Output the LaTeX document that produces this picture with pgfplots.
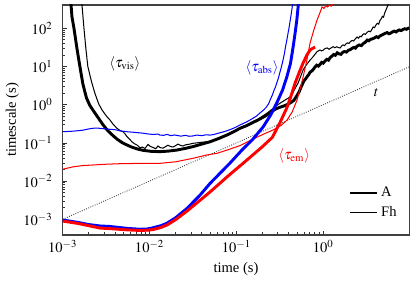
\documentclass[border=0pt]{standalone}
\usepackage{mathptmx}
\usepackage{fontspec}
\setmainfont{Liberation Serif}
\usepackage{pgfplots}
\pgfplotsset{compat=1.18}
\begin{document}
\begin{tikzpicture}
\begin{axis}[
  scale only axis, width=237.4bp, height=157.5bp,
  xmode=log, ymode=log,
  xmin=1e-3, xmax=9.8, ymin=3.9e-4, ymax=407,
  xtick pos=bottom, ytick pos=left, tick align=inside,
  axis line style={black!75, line width=0.9bp},
  every tick/.style={black!80, line width=0.5bp},
  major tick length=3bp, minor tick length=1.7bp,
  xtick={1e-3,1e-2,1e-1,1},
  ytick={1e-3,1e-2,1e-1,1,10,100},
  yticklabel style={xshift=-3.5bp},
  xlabel={time (s)}, ylabel={timescale (s)},
  xlabel style={at={(axis description cs:0.5,-0.146)}, anchor=center},
  ylabel style={at={(axis description cs:-0.145,0.5)}, anchor=center, rotate=0},
  legend cell align=left,
  legend style={at={(axis description cs:0.985,0.045)}, anchor=south east, draw=none, fill=none, row sep=1bp},
  legend image code/.code={\draw[#1] (0cm,0cm) -- (0.65cm,0cm);},
  clip=true,
]
% t line
\addplot[forget plot, densely dotted, black!75, line width=0.6bp] coordinates {(0.001,0.001) (9.8,9.8)};
% thick black A vis
\addplot[forget plot, black, line width=2bp] coordinates {
(0.00122,600)(0.00125,407)(0.00128,200)(0.00135,100)(0.00146,30)(0.00158,10)(0.00171,3.5)(0.00188,1.5)(0.00206,0.95)(0.00236,0.6)(0.00291,0.30)(0.0033,0.21)(0.0038,0.155)(0.0043,0.122)(0.0049,0.10)(0.00551,0.088)(0.0063,0.077)(0.0073,0.069)(0.0084,0.064)(0.0105,0.060)(0.0132,0.059)(0.0165,0.061)(0.0207,0.065)(0.026,0.072)(0.0317,0.080)(0.04,0.093)(0.0498,0.107)(0.0625,0.13)(0.0781,0.161)(0.095,0.20)
(0.110,0.241)(0.13,0.28)(0.15,0.33)(0.175,0.39)(0.2,0.46)(0.226,0.54)(0.25,0.64)(0.28,0.76)(0.31,0.84)(0.35,0.92)(0.39,1.02)(0.42,1.12)(0.46,1.3)(0.50,1.75)(0.53,2.2)(0.56,3.0)(0.60,4.2)(0.63,4.8)(0.653,5.4)(0.68,6.1)(0.71,7.2)(0.74,7.6)(0.766,8.3)(0.80,9.5)(0.84,10.8)(0.88,10.2)(0.92,11.3)(0.96,12.8)(1.0,12.2)(1.05,13.9)(1.1,15.4)(1.15,14.6)(1.2,17.0)(1.26,18.6)(1.32,20.5)(1.38,19.6)(1.45,22.8)(1.52,21.4)(1.6,20.8)(1.68,23.5)(1.76,24.6)(1.85,23.8)(1.95,26.5)(2.04,27.5)(2.15,29.8)(2.25,31.5)(2.35,30.2)(2.45,34)(2.6,36.5)(2.75,35.2)(2.9,40)(3.05,43)(3.21,49)(3.35,47)(3.5,51)(3.7,53)(3.9,56)(4.1,60)(4.3,57)(4.5,63)(4.75,67)(5.0,71)(5.2,74)(5.45,77)(5.7,72)(6.0,75)(6.3,81)(6.6,84)(6.9,80)(7.2,86)(7.5,90)(7.9,87)(8.3,93)(8.7,97)(9.1,94)(9.5,100)(9.8,102)};
% thin black Fh vis
\addplot[forget plot, black, line width=0.7bp] coordinates {
(0.00163,600)(0.00167,407)(0.00176,100)(0.00185,30)(0.00195,10)(0.00215,4.0)(0.00235,2.0)(0.0026,1.05)(0.00284,0.73)(0.0031,0.55)(0.0033,0.46)(0.0035,0.40)(0.0038,0.31)(0.00422,0.241)(0.0046,0.21)(0.00496,0.196)(0.0052,0.175)(0.00551,0.145)(0.0059,0.125)(0.00628,0.107)(0.0067,0.095)(0.00718,0.088)(0.0078,0.074)(0.0082,0.078)(0.0089,0.072)(0.0096,0.091)(0.0103,0.08)(0.011,0.076)(0.0118,0.07)(0.0125,0.083)(0.0133,0.075)(0.0143,0.073)(0.0152,0.079)(0.0163,0.087)(0.0175,0.08)(0.0187,0.078)(0.02,0.085)(0.0213,0.093)(0.0228,0.086)(0.0243,0.083)(0.026,0.089)(0.0278,0.091)(0.0297,0.094)(0.0317,0.0975)(0.035,0.10)(0.0382,0.103)(0.0435,0.106)(0.0498,0.110)(0.06,0.13)(0.0781,0.166)(0.095,0.205)
(0.110,0.25)(0.13,0.29)(0.15,0.345)(0.175,0.41)(0.2,0.50)(0.23,0.62)(0.265,0.80)(0.30,1.0)(0.33,1.15)(0.37,1.35)(0.416,1.6)(0.45,2.1)(0.48,2.8)(0.514,3.7)(0.55,5.5)(0.587,8.1)(0.63,10.5)(0.67,12.6)(0.706,14.8)(0.75,17)(0.8,20.5)(0.85,24.5)(0.92,27)(0.96,25.5)(1.0,26.8)(1.05,29.5)(1.11,30.5)(1.17,28.2)(1.24,30.8)(1.3,33)(1.36,31)(1.43,32.8)(1.5,31.2)(1.57,30.5)(1.63,34.5)(1.69,36.6)(1.76,35)(1.83,39)(1.9,41.5)(1.98,40)(2.06,45)(2.15,48)(2.24,46.5)(2.33,52)(2.45,59)(2.55,55)(2.65,62)(2.75,60)(2.85,68)(2.95,72)(3.05,69)(3.2,78)(3.35,84)(3.5,81)(3.65,95)(3.76,108)(3.9,104)(4.05,122)(4.2,135)(4.35,128)(4.5,160)(4.65,175)(4.8,205)(4.95,195)(5.1,250)(5.25,290)(5.45,361)(5.6,420)(5.8,520)};
% thin blue Fh abs
\addplot[forget plot, blue, line width=0.7bp] coordinates {
(0.001,0.196)(0.0012,0.20)(0.0014,0.205)(0.00171,0.215)(0.002,0.232)(0.00223,0.241)(0.00248,0.245)(0.0028,0.238)(0.0031,0.232)(0.0035,0.227)(0.0040,0.222)(0.0046,0.206)(0.00551,0.196)(0.0065,0.19)(0.0075,0.184)(0.0084,0.18)(0.0095,0.172)(0.011,0.166)(0.0125,0.170)(0.0132,0.16)(0.0145,0.158)(0.016,0.167)(0.0175,0.155)(0.0195,0.161)(0.0207,0.157)(0.023,0.150)(0.026,0.158)(0.0285,0.149)(0.0317,0.152)(0.035,0.160)(0.04,0.155)(0.045,0.163)(0.0498,0.16)(0.055,0.166)(0.0625,0.18)(0.07,0.193)(0.0781,0.208)(0.09,0.235)(0.10,0.262)(0.110,0.294)(0.13,0.35)(0.15,0.42)(0.17,0.50)(0.1875,0.61)(0.205,0.72)(0.22,0.85)(0.235,1.05)(0.245,1.33)(0.26,1.8)(0.27,2.3)(0.282,2.9)(0.292,3.7)(0.305,5.0)(0.32,7.5)(0.333,10.5)(0.345,14.8)(0.358,22)(0.37,35)(0.382,50)(0.394,75)(0.405,105)(0.415,150)(0.425,210)(0.435,301)(0.445,450)(0.452,600)};
% thin red Fh em
\addplot[forget plot, red, line width=0.7bp] coordinates {
(0.001,0.0204)(0.0013,0.0235)(0.0017,0.0255)(0.00223,0.0264)(0.003,0.0275)(0.0045,0.0285)(0.007,0.029)(0.0132,0.0292)(0.02,0.032)(0.0317,0.0395)(0.045,0.048)(0.060,0.0534)(0.08,0.066)(0.110,0.085)(0.15,0.12)(0.2,0.165)(0.265,0.218)(0.33,0.29)(0.385,0.40)(0.44,0.65)(0.50,1.33)(0.545,2.7)(0.587,5.3)(0.65,15)(0.706,41)(0.78,90)(0.851,165)(0.92,260)(0.97,361)(1.02,330)(1.07,390)(1.12,360)(1.18,400)(1.24,380)(1.3,450)(1.34,600)};
% thick blue A abs
\addplot[forget plot, blue, line width=2bp] coordinates {
(0.001,9.6e-4)(0.0015,8.3e-4)(0.002,7.3e-4)(0.00269,6.7e-4)(0.0035,6.5e-4)(0.00422,6.2e-4)(0.0055,5.8e-4)(0.00778,5.5e-4)(0.0095,5.6e-4)(0.01096,6.0e-4)(0.0135,6.8e-4)(0.0159,7.9e-4)(0.02,1.1e-3)(0.0271,1.94e-3)(0.0382,4.3e-3)(0.0498,8.7e-3)(0.0847,0.0298)(0.116,0.065)(0.152,0.119)(0.203,0.26)(0.25,0.55)(0.292,1.11)(0.34,2.4)(0.381,5.3)(0.42,12)(0.45,32)(0.475,75)(0.497,165)(0.514,361)(0.525,600)};
% thick red A em
\addplot[forget plot, red, line width=2bp] coordinates {
(0.001,9.0e-4)(0.0015,7.8e-4)(0.002,6.8e-4)(0.00269,5.9e-4)(0.0035,5.7e-4)(0.0055,5.3e-4)(0.00778,5.1e-4)(0.0095,5.2e-4)(0.011,5.4e-4)(0.0135,6.1e-4)(0.0159,7.1e-4)(0.02,9.8e-4)(0.0271,1.65e-3)(0.0498,5.2e-3)(0.08,0.0135)(0.133,0.036)(0.2,0.08)(0.26,0.14)(0.32,0.35)(0.385,0.87)(0.43,1.8)(0.475,3.7)(0.53,7)(0.587,12.4)(0.65,20)(0.706,27)(0.76,30)(0.807,32)};
\addlegendimage{black, line width=2bp}
\addlegendentry{A}
\addlegendimage{black, line width=0.7bp}
\addlegendentry{Fh}
\node[black] at (axis cs:0.00521,11.6) {$\langle\tau_{\mathrm{vis}}\rangle$};
\node[blue] at (axis cs:0.198,9.1) {$\langle\tau_{\mathrm{abs}}\rangle$};
\node[red] at (axis cs:0.463,0.045) {$\langle\tau_{\mathrm{em}}\rangle$};
\node[black] at (axis cs:4.09,2.02) {$t$};
\end{axis}
\path ([xshift=-42.9bp,yshift=-32.2bp]current axis.south west) rectangle ([xshift=3.9bp,yshift=3.4bp]current axis.north east);
\end{tikzpicture}
\end{document}
